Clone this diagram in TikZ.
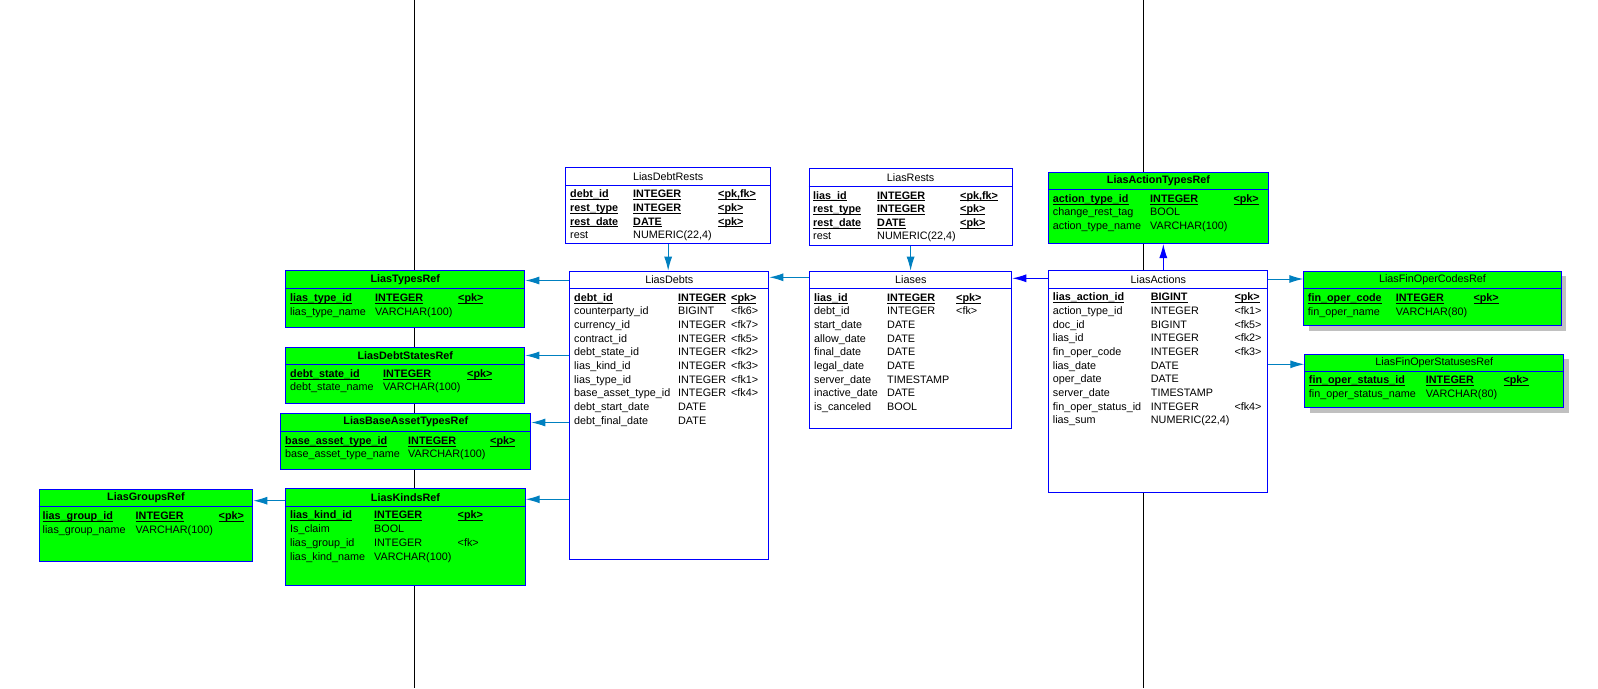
\documentclass[tikz,border=0pt]{standalone}
\usepackage{fontspec}
\setmainfont{Liberation Sans}
\usepackage{xcolor}
\usepackage{tikz}
\usetikzlibrary{arrows.meta,shadows}

\definecolor{erblue}{RGB}{0,0,255}
\definecolor{refgreen}{RGB}{0,255,0}
\definecolor{fkblue}{RGB}{0,128,192}
\definecolor{shadowgray}{RGB}{192,192,192}

\newcommand{\pkul}[1]{\setbox0\hbox{#1}\rlap{\rule[-2.2pt]{\wd0}{0.9pt}}\box0}
\newcommand{\ercols}[5]{\makebox[#1][l]{#3}\makebox[#2][l]{#4}#5}
\newcommand{\erpk}[5]{\makebox[#1][l]{\pkul{#3}}\makebox[#2][l]{\pkul{#4}}\pkul{#5}}

\begin{document}
\begin{tikzpicture}[
        x=1pt, y=-1pt,
        every node/.style={font=\fontsize{10.8pt}{12pt}\selectfont},
        tbl/.style={draw=erblue, line width=1pt, fill=white, anchor=north west, inner sep=0pt},
        reftbl/.style={tbl, fill=refgreen},
        shtbl/.style={reftbl, drop shadow={shadow xshift=5pt, shadow yshift=-5pt, fill=shadowgray, opacity=1}},
        sep/.style={draw=erblue, line width=1pt},
        ttl/.style={inner sep=0pt},
        bttl/.style={inner sep=0pt, font=\fontsize{10.8pt}{12pt}\selectfont\bfseries},
        fld/.style={anchor=mid west, inner sep=0pt, yshift=-1.3pt},
        pkfld/.style={fld, font=\fontsize{10.8pt}{12pt}\selectfont\bfseries},
        fk/.style={draw=fkblue, line width=1pt, -{Latex[length=14pt,width=8pt]}},
        ownfk/.style={fk, draw=erblue},
        sheet/.style={draw=black, line width=1pt}
    ]
    \useasboundingbox (0,0) rectangle (1598,688);

    % page borders
    \coordinate (sheetL-top) at (414.5,0);
    \coordinate (sheetL-bot) at (414.5,688);
    \coordinate (sheetR-top) at (1143.5,0);
    \coordinate (sheetR-bot) at (1143.5,688);
    \draw[sheet] (sheetL-top) -- (sheetL-bot);
    \draw[sheet] (sheetR-top) -- (sheetR-bot);

    % LiasDebtRests
    \node[tbl, minimum width=204.7pt, minimum height=75.7pt] (debtrests) at (565.3,167.3) {};
    \draw[sep] ([yshift=-17.8pt]debtrests.north west) -- ([yshift=-17.8pt]debtrests.north east);
    \node[ttl] (debtrests-t) at ([yshift=-9pt]debtrests.north) {LiasDebtRests};
    \foreach \n/\t/\k [count=\i from 0] in {debt\_id/INTEGER/{<pk,fk>}, rest\_type/INTEGER/<pk>, rest\_date/DATE/<pk>}
        \node[pkfld] (debtrests-r\i) at (570,{194+13.6*\i}) {\erpk{63pt}{85pt}{\n}{\t}{\k}};
    \node[fld] (debtrests-r3) at (570,234.8) {\ercols{63pt}{85pt}{rest}{NUMERIC(22,4)}{}};

    % LiasRests
    \node[tbl, minimum width=202.8pt, minimum height=77pt] (rests) at (808.7,168.3) {};
    \draw[sep] ([yshift=-17.8pt]rests.north west) -- ([yshift=-17.8pt]rests.north east);
    \node[ttl] (rests-t) at ([yshift=-9pt]rests.north) {LiasRests};
    \foreach \n/\t/\k [count=\i from 0] in {lias\_id/INTEGER/{<pk,fk>}, rest\_type/INTEGER/<pk>, rest\_date/DATE/<pk>}
        \node[pkfld] (rests-r\i) at (813,{195.2+13.6*\i}) {\erpk{64pt}{83pt}{\n}{\t}{\k}};
    \node[fld] (rests-r3) at (813,236) {\ercols{64pt}{83pt}{rest}{NUMERIC(22,4)}{}};

    % LiasDebts
    \node[tbl, minimum width=199pt, minimum height=288.6pt] (debts) at (569.3,270.7) {};
    \draw[sep] ([yshift=-17.8pt]debts.north west) -- ([yshift=-17.8pt]debts.north east);
    \node[ttl] (debts-t) at ([yshift=-9pt]debts.north) {LiasDebts};
    \node[pkfld] (debts-r0) at (574,297.3) {\erpk{104pt}{53pt}{debt\_id}{INTEGER}{<pk>}};
    \foreach \n/\t/\k [count=\i from 1] in {counterparty\_id/BIGINT/<fk6>, currency\_id/INTEGER/<fk7>,
            contract\_id/INTEGER/<fk5>, debt\_state\_id/INTEGER/<fk2>, lias\_kind\_id/INTEGER/<fk3>,
            lias\_type\_id/INTEGER/<fk1>, base\_asset\_type\_id/INTEGER/<fk4>,
            debt\_start\_date/DATE/{}, debt\_final\_date/DATE/{}}
        \node[fld] (debts-r\i) at (574,{297.3+13.67*\i}) {\ercols{104pt}{53pt}{\n}{\t}{\k}};

    % Liases
    \node[tbl, minimum width=202pt, minimum height=157.6pt] (liases) at (809.3,270.7) {};
    \draw[sep] ([yshift=-17.8pt]liases.north west) -- ([yshift=-17.8pt]liases.north east);
    \node[ttl] (liases-t) at ([yshift=-9pt]liases.north) {Liases};
    \node[pkfld] (liases-r0) at (814,297.3) {\erpk{73pt}{69pt}{lias\_id}{INTEGER}{<pk>}};
    \foreach \n/\t/\k [count=\i from 1] in {debt\_id/INTEGER/<fk>, start\_date/DATE/{}, allow\_date/DATE/{},
            final\_date/DATE/{}, legal\_date/DATE/{}, server\_date/TIMESTAMP/{},
            inactive\_date/DATE/{}, is\_canceled/BOOL/{}}
        \node[fld] (liases-r\i) at (814,{297.3+13.67*\i}) {\ercols{73pt}{69pt}{\n}{\t}{\k}};

    % LiasTypesRef
    \node[reftbl, minimum width=239pt, minimum height=57pt] (typesref) at (285.3,270.3) {};
    \draw[sep] ([yshift=-17.8pt]typesref.north west) -- ([yshift=-17.8pt]typesref.north east);
    \node[bttl] (typesref-t) at ([yshift=-9pt]typesref.north) {LiasTypesRef};
    \node[pkfld] (typesref-r0) at (290,297.3) {\erpk{85pt}{83pt}{lias\_type\_id}{INTEGER}{<pk>}};
    \node[fld] (typesref-r1) at (290,311.3) {\ercols{85pt}{83pt}{lias\_type\_name}{VARCHAR(100)}{}};

    % LiasDebtStatesRef
    \node[reftbl, minimum width=239pt, minimum height=56.6pt] (debtstates) at (285.3,346.7) {};
    \draw[sep] ([yshift=-17.8pt]debtstates.north west) -- ([yshift=-17.8pt]debtstates.north east);
    \node[bttl] (debtstates-t) at ([yshift=-9pt]debtstates.north) {LiasDebtStatesRef};
    \node[pkfld] (debtstates-r0) at (290,373.3) {\erpk{93pt}{84pt}{debt\_state\_id}{INTEGER}{<pk>}};
    \node[fld] (debtstates-r1) at (290,387) {\ercols{93pt}{84pt}{debt\_state\_name}{VARCHAR(100)}{}};

    % LiasBaseAssetTypesRef
    \node[reftbl, minimum width=250pt, minimum height=56.6pt] (baseasset) at (280.3,412.7) {};
    \draw[sep] ([yshift=-18.3pt]baseasset.north west) -- ([yshift=-18.3pt]baseasset.north east);
    \node[bttl] (baseasset-t) at ([yshift=-9pt]baseasset.north) {LiasBaseAssetTypesRef};
    \node[pkfld] (baseasset-r0) at (285,440.3) {\erpk{123pt}{82pt}{base\_asset\_type\_id}{INTEGER}{<pk>}};
    \node[fld] (baseasset-r1) at (285,453.8) {\ercols{123pt}{82pt}{base\_asset\_type\_name}{VARCHAR(100)}{}};

    % LiasKindsRef
    \node[reftbl, minimum width=239.4pt, minimum height=97pt] (kinds) at (285.3,488.3) {};
    \draw[sep] ([yshift=-18.3pt]kinds.north west) -- ([yshift=-18.3pt]kinds.north east);
    \node[bttl] (kinds-t) at ([yshift=-9pt]kinds.north) {LiasKindsRef};
    \node[pkfld] (kinds-r0) at (290,515) {\erpk{84pt}{83.5pt}{lias\_kind\_id}{INTEGER}{<pk>}};
    \foreach \n/\t/\k [count=\i from 1] in {Is\_claim/BOOL/{}, lias\_group\_id/INTEGER/<fk>, lias\_kind\_name/VARCHAR(100)/{}}
        \node[fld] (kinds-r\i) at (290,{515+13.7*\i}) {\ercols{84pt}{83.5pt}{\n}{\t}{\k}};

    % LiasGroupsRef
    \node[reftbl, minimum width=213.8pt, minimum height=72.4pt] (groups) at (38.5,488.9) {};
    \draw[sep] ([yshift=-17.8pt]groups.north west) -- ([yshift=-17.8pt]groups.north east);
    \node[bttl] (groups-t) at ([yshift=-9pt]groups.north) {LiasGroupsRef};
    \node[pkfld] (groups-r0) at (42.5,515.6) {\erpk{93pt}{83pt}{lias\_group\_id}{INTEGER}{<pk>}};
    \node[fld] (groups-r1) at (42.5,529.5) {\ercols{93pt}{83pt}{lias\_group\_name}{VARCHAR(100)}{}};

    % LiasActionTypesRef
    \node[reftbl, minimum width=219.2pt, minimum height=71.3pt] (actiontypes) at (1048.3,171.7) {};
    \draw[sep] ([yshift=-17.8pt]actiontypes.north west) -- ([yshift=-17.8pt]actiontypes.north east);
    \node[bttl] (actiontypes-t) at ([yshift=-9pt]actiontypes.north) {LiasActionTypesRef};
    \node[pkfld] (actiontypes-r0) at (1052.7,198.3) {\erpk{97.3pt}{83.3pt}{action\_type\_id}{INTEGER}{<pk>}};
    \node[fld] (actiontypes-r1) at (1052.7,211.8) {\ercols{97.3pt}{83.3pt}{change\_rest\_tag}{BOOL}{}};
    \node[fld] (actiontypes-r2) at (1052.7,225.4) {\ercols{97.3pt}{83.3pt}{action\_type\_name}{VARCHAR(100)}{}};

    % LiasActions
    \node[tbl, minimum width=219pt, minimum height=222pt] (actions) at (1048.3,270.3) {};
    \draw[sep] ([yshift=-18pt]actions.north west) -- ([yshift=-18pt]actions.north east);
    \node[ttl] (actions-t) at ([yshift=-9pt]actions.north) {LiasActions};
    \node[pkfld] (actions-r0) at (1052.7,297) {\erpk{98pt}{83.6pt}{lias\_action\_id}{BIGINT}{<pk>}};
    \foreach \n/\t/\k [count=\i from 1] in {action\_type\_id/INTEGER/<fk1>, doc\_id/BIGINT/<fk5>,
            lias\_id/INTEGER/<fk2>, fin\_oper\_code/INTEGER/<fk3>, lias\_date/DATE/{}, oper\_date/DATE/{},
            server\_date/TIMESTAMP/{}, fin\_oper\_status\_id/INTEGER/<fk4>, lias\_sum/{NUMERIC(22,4)}/{}}
        \node[fld] (actions-r\i) at (1052.7,{297+13.67*\i}) {\ercols{98pt}{83.6pt}{\n}{\t}{\k}};

    % LiasFinOperCodesRef
    \node[shtbl, minimum width=257.4pt, minimum height=54.5pt] (fincodes) at (1303.3,270.7) {};
    \draw[sep] ([yshift=-18pt]fincodes.north west) -- ([yshift=-18pt]fincodes.north east);
    \node[ttl] (fincodes-t) at ([yshift=-9pt]fincodes.north) {LiasFinOperCodesRef};
    \node[pkfld] (fincodes-r0) at (1307.7,297.3) {\erpk{88pt}{77.6pt}{fin\_oper\_code}{INTEGER}{<pk>}};
    \node[fld] (fincodes-r1) at (1307.7,311.3) {\ercols{88pt}{77.6pt}{fin\_oper\_name}{VARCHAR(80)}{}};

    % LiasFinOperStatusesRef
    \node[shtbl, minimum width=259pt, minimum height=53.6pt] (finstatuses) at (1304.3,353.7) {};
    \draw[sep] ([yshift=-17.6pt]finstatuses.north west) -- ([yshift=-17.6pt]finstatuses.north east);
    \node[ttl] (finstatuses-t) at ([yshift=-9pt]finstatuses.north) {LiasFinOperStatusesRef};
    \node[pkfld] (finstatuses-r0) at (1308.7,380) {\erpk{117pt}{77.6pt}{fin\_oper\_status\_id}{INTEGER}{<pk>}};
    \node[fld] (finstatuses-r1) at (1308.7,394) {\ercols{117pt}{77.6pt}{fin\_oper\_status\_name}{VARCHAR(80)}{}};

    % references
    \draw[fk] (debtrests.south) -- (debtrests.south |- debts.north);
    \draw[fk] (rests.south) -- (rests.south |- liases.north);
    \draw[fk] ([yshift=-6.6pt]liases.north west) -- ([yshift=-6.6pt]liases.north west -| debts.east);
    \draw[fk] ([yshift=-10.2pt]typesref.north east -| debts.west) -- ([yshift=-10.2pt]typesref.north east);
    \draw[fk] ([yshift=-8.8pt]debtstates.north east -| debts.west) -- ([yshift=-8.8pt]debtstates.north east);
    \draw[fk] ([yshift=-9.8pt]baseasset.north east -| debts.west) -- ([yshift=-9.8pt]baseasset.north east);
    \draw[fk] ([yshift=-11pt]kinds.north east -| debts.west) -- ([yshift=-11pt]kinds.north east);
    \draw[fk] ([yshift=-11.8pt]groups.north east -| kinds.west) -- ([yshift=-11.8pt]groups.north east);
    \draw[ownfk] ([yshift=-8pt]actions.north west) -- ([yshift=-8pt]actions.north west -| liases.east);
    \draw[ownfk] ([xshift=5pt]actions.north) -- ([xshift=5pt]actions.north |- actiontypes.south);
    \draw[fk] ([yshift=-8.3pt]fincodes.north west -| actions.east) -- ([yshift=-8.3pt]fincodes.north west);
    \draw[fk] ([yshift=-10.6pt]finstatuses.north west -| actions.east) -- ([yshift=-10.6pt]finstatuses.north west);

\end{tikzpicture}
\end{document}
